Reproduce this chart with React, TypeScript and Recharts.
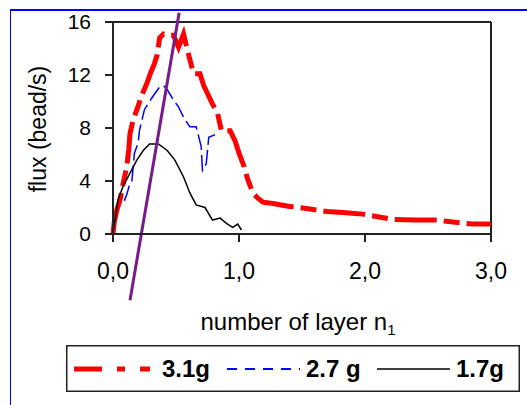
import React from 'react'
import { LineChart, Line, XAxis, YAxis, ReferenceLine, Legend } from 'recharts'

// 3.1 g beads
const flux31 = [
  { n: 0, flux: 0 }, { n: 0.01, flux: 0.9 }, { n: 0.03, flux: 1.8 }, { n: 0.056, flux: 2.6 },
  { n: 0.08, flux: 3.8 }, { n: 0.11, flux: 5.1 }, { n: 0.125, flux: 6.4 }, { n: 0.135, flux: 7.6 },
  { n: 0.16, flux: 8.6 }, { n: 0.19, flux: 9.4 }, { n: 0.23, flux: 10.5 }, { n: 0.27, flux: 11.4 },
  { n: 0.3, flux: 12.2 }, { n: 0.33, flux: 12.9 }, { n: 0.35, flux: 13.5 }, { n: 0.37, flux: 14.8 },
  { n: 0.4, flux: 15.1 }, { n: 0.44, flux: 15.0 }, { n: 0.48, flux: 15.0 }, { n: 0.52, flux: 14.1 },
  { n: 0.56, flux: 15.1 }, { n: 0.59, flux: 13.9 }, { n: 0.62, flux: 12.8 }, { n: 0.64, flux: 12.1 },
  { n: 0.69, flux: 12.1 }, { n: 0.72, flux: 11.2 }, { n: 0.75, flux: 10.6 }, { n: 0.79, flux: 9.8 },
  { n: 0.83, flux: 9.1 }, { n: 0.86, flux: 7.8 }, { n: 0.93, flux: 7.8 }, { n: 0.97, flux: 7.0 },
  { n: 1.0, flux: 6.1 }, { n: 1.04, flux: 5.1 }, { n: 1.07, flux: 4.1 }, { n: 1.11, flux: 3.1 },
  { n: 1.15, flux: 2.7 }, { n: 1.19, flux: 2.4 }, { n: 1.27, flux: 2.3 }, { n: 1.39, flux: 2.1 },
  { n: 1.55, flux: 1.9 }, { n: 1.7, flux: 1.7 }, { n: 1.85, flux: 1.6 }, { n: 1.98, flux: 1.5 },
  { n: 2.1, flux: 1.3 }, { n: 2.22, flux: 1.1 }, { n: 2.4, flux: 1.05 }, { n: 2.57, flux: 1.05 },
  { n: 2.7, flux: 0.9 }, { n: 2.86, flux: 0.75 }, { n: 3.0, flux: 0.75 },
]

// 2.7 g beads
const flux27 = [
  { n: 0.09, flux: 2.5 }, { n: 0.11, flux: 3.0 }, { n: 0.135, flux: 3.85 }, { n: 0.15, flux: 4.0 },
  { n: 0.17, flux: 6.1 }, { n: 0.2, flux: 6.9 }, { n: 0.21, flux: 7.8 }, { n: 0.25, flux: 9.4 },
  { n: 0.31, flux: 10.3 }, { n: 0.37, flux: 11.1 }, { n: 0.4, flux: 11.2 }, { n: 0.43, flux: 10.9 },
  { n: 0.48, flux: 10.1 }, { n: 0.52, flux: 9.6 }, { n: 0.56, flux: 8.8 }, { n: 0.61, flux: 8.1 },
  { n: 0.66, flux: 8.1 }, { n: 0.7, flux: 6.6 }, { n: 0.71, flux: 4.8 }, { n: 0.74, flux: 5.3 },
  { n: 0.76, flux: 7.3 }, { n: 0.81, flux: 7.5 },
]

// 1.7 g beads
const flux17 = [
  { n: 0, flux: 0.2 }, { n: 0.01, flux: 0.8 }, { n: 0.02, flux: 1.3 }, { n: 0.04, flux: 2.6 },
  { n: 0.08, flux: 3.6 }, { n: 0.135, flux: 4.6 }, { n: 0.19, flux: 5.6 }, { n: 0.24, flux: 6.3 },
  { n: 0.29, flux: 6.8 }, { n: 0.36, flux: 6.8 }, { n: 0.43, flux: 6.3 }, { n: 0.49, flux: 5.6 },
  { n: 0.56, flux: 4.3 }, { n: 0.61, flux: 3.1 }, { n: 0.66, flux: 2.2 }, { n: 0.73, flux: 2.0 },
  { n: 0.79, flux: 1.05 }, { n: 0.85, flux: 1.2 }, { n: 0.9, flux: 0.8 }, { n: 0.95, flux: 0.5 },
  { n: 0.99, flux: 0.75 }, { n: 1.02, flux: 0.3 },
]

// purple guide line end points
const guide = [{ x: 0.135, y: -5 }, { x: 0.525, y: 16.7 }]

const xTicks = [0, 1, 2, 3]
const yTicks = [0, 4, 8, 12, 16]

const FONT = 'Arial, "Liberation Sans", sans-serif'

const LegendBox = () => (
  <svg width={454} height={47} style={{ display: 'block', fontFamily: FONT }}>
    <rect x={0.75} y={0.75} width={452.5} height={45.5} fill="#fff" stroke="#222" strokeWidth={1.5} />
    <line x1={8} x2={84} y1={24} y2={24} stroke="#ff0000" strokeWidth={5} strokeDasharray="28 15 8 15 10" />
    <text x={96} y={32} fontSize={24} fontWeight="bold">3.1g</text>
    <line x1={161} x2={234} y1={24} y2={24} stroke="#0000ff" strokeWidth={2} strokeDasharray="10 8" />
    <text x={240} y={32} fontSize={24} fontWeight="bold">2.7 g</text>
    <line x1={311} x2={384} y1={24} y2={24} stroke="#000" strokeWidth={1.5} />
    <text x={390} y={32} fontSize={24} fontWeight="bold">1.7g</text>
  </svg>
)

const YTitle = () => (
  <text transform="translate(46,129) rotate(-90)" textAnchor="middle" fontSize={23} fontFamily={FONT} fill="#000">
    flux (bead/s)
  </text>
)

const XTitle = () => (
  <text x={298} y={330} textAnchor="middle" fontSize={24} fontFamily={FONT} fill="#000">
    number of layer n<tspan fontSize={15} dy={5}>1</tspan>
  </text>
)

export default function App() {
  return (
    <div style={{ position: 'absolute', left: 0, top: 0, width: 527, height: 405, background: '#fff' }}>
      <div style={{ position: 'absolute', left: 10, top: 9, width: 517, height: 1.5, background: '#0000ff' }} />
      <div style={{ position: 'absolute', left: 9.5, top: 10, width: 1.5, height: 395, background: '#0000ff' }} />
      <LineChart width={527} height={405} margin={{ top: 22, right: 36, bottom: 0, left: 0 }}>
        <XAxis
          dataKey="n"
          type="number"
          domain={[0, 3]}
          ticks={xTicks}
          tickFormatter={(v: number) => v.toFixed(1).replace('.', ',')}
          height={171}
          stroke="#222"
          strokeWidth={2}
          tickSize={8}
          tickMargin={21}
          tick={{ fill: '#000', fontSize: 23, fontFamily: FONT }}
          allowDuplicatedCategory={false}
          label={{ content: () => <XTitle /> }}
        />
        <YAxis
          dataKey="flux"
          type="number"
          domain={[0, 16]}
          ticks={yTicks}
          width={113}
          stroke="#222"
          strokeWidth={2}
          tickSize={8}
          tickMargin={14}
          tick={{ fill: '#000', fontSize: 21, fontFamily: FONT }}
          label={{ content: () => <YTitle /> }}
        />
        <ReferenceLine y={16} stroke="#222" strokeWidth={2} />
        <ReferenceLine x={3} stroke="#222" strokeWidth={2} />
        <Line
          data={flux31}
          dataKey="flux"
          name="3.1g"
          stroke="#ff0000"
          strokeWidth={5}
          strokeDasharray="42 7 16 7"
          dot={false}
          type="linear"
          isAnimationActive={false}
        />
        <Line
          data={flux27}
          dataKey="flux"
          name="2.7 g"
          stroke="#0000ff"
          strokeWidth={1.5}
          strokeDasharray="16 5"
          dot={false}
          type="linear"
          isAnimationActive={false}
        />
        <Line
          data={flux17}
          dataKey="flux"
          name="1.7g"
          stroke="#000"
          strokeWidth={1.5}
          dot={false}
          type="linear"
          isAnimationActive={false}
        />
        <ReferenceLine segment={guide} stroke="#7a1a8a" strokeWidth={3} ifOverflow="visible" />
        <Legend
          layout="horizontal"
          verticalAlign="middle"
          align="center"
          wrapperStyle={{ left: 66, top: 345, width: 454, height: 47 }}
          content={() => <LegendBox />}
        />
      </LineChart>
    </div>
  )
}
